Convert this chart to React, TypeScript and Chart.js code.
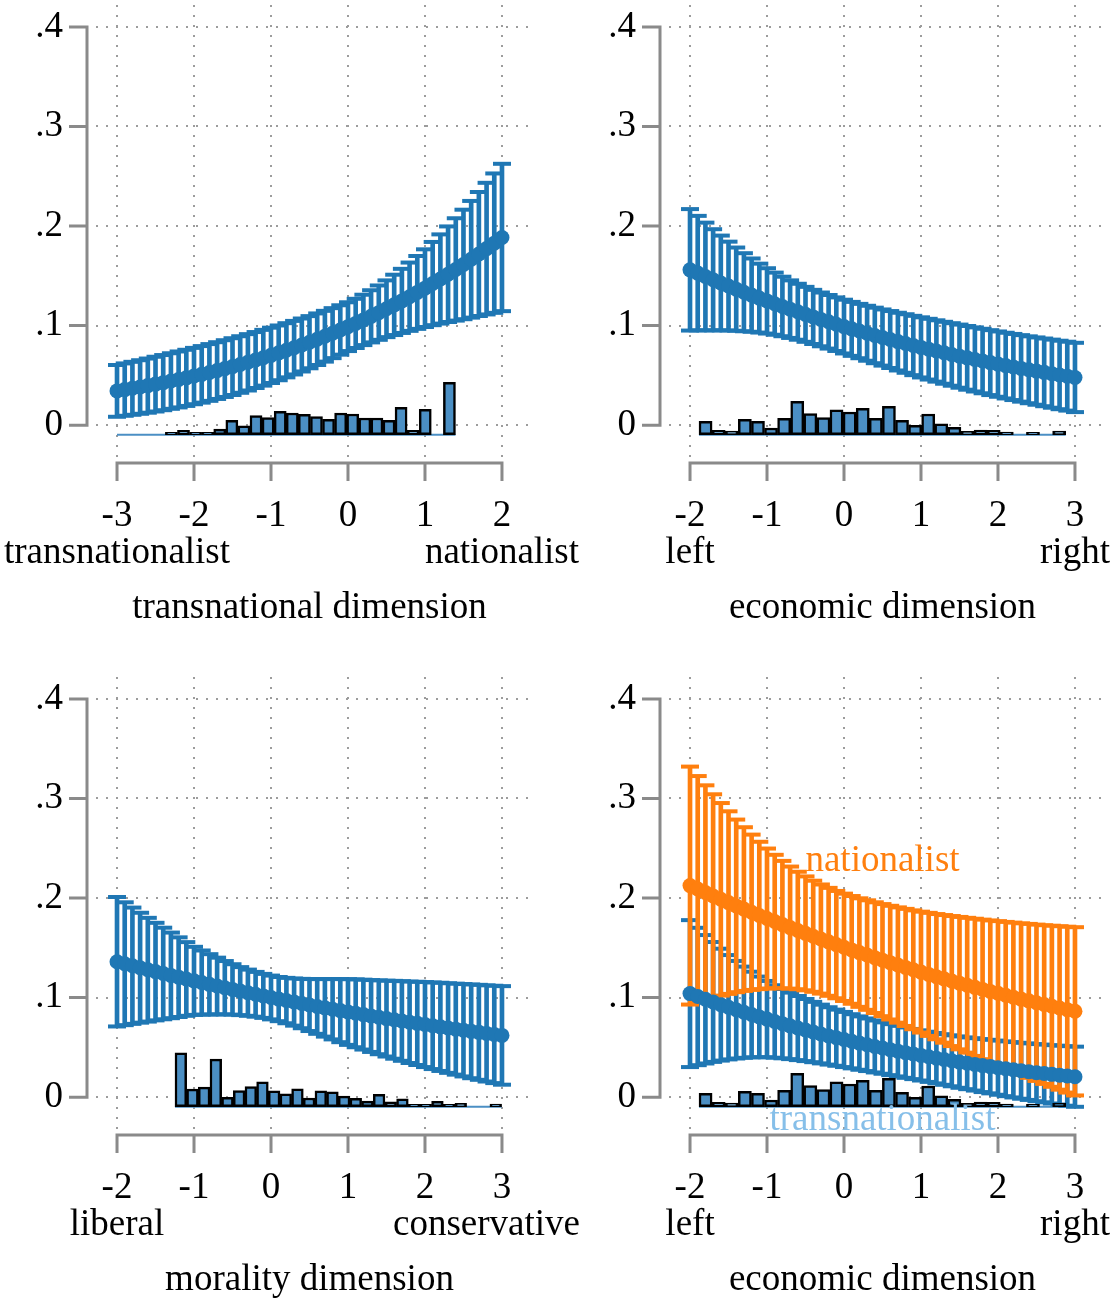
import React, { useEffect, useRef } from 'react';
import { Chart, registerables } from 'chart.js';

Chart.register(...registerables);

// ---- evaluation grids (values at which the predicted probabilities were computed) ----
const GRID_TRANS = [
  -3, -2.9, -2.8, -2.7, -2.6, -2.5, -2.4, -2.3, -2.2, -2.1,
  -2, -1.9, -1.8, -1.7, -1.6, -1.5, -1.4, -1.3, -1.2, -1.1,
  -1, -0.9, -0.8, -0.7, -0.6, -0.5, -0.4, -0.3, -0.2, -0.1,
  0, 0.1, 0.2, 0.3, 0.4, 0.5, 0.6, 0.7, 0.8, 0.9,
  1, 1.1, 1.2, 1.3, 1.4, 1.5, 1.6, 1.7, 1.8, 1.9, 2,
];
const GRID_NEG2_TO_3 = [
  -2, -1.9, -1.8, -1.7, -1.6, -1.5, -1.4, -1.3, -1.2, -1.1,
  -1, -0.9, -0.8, -0.7, -0.6, -0.5, -0.4, -0.3, -0.2, -0.1,
  0, 0.1, 0.2, 0.3, 0.4, 0.5, 0.6, 0.7, 0.8, 0.9,
  1, 1.1, 1.2, 1.3, 1.4, 1.5, 1.6, 1.7, 1.8, 1.9,
  2, 2.1, 2.2, 2.3, 2.4, 2.5, 2.6, 2.7, 2.8, 2.9, 3,
];

// ---- transnational dimension ----
const TRANS_EST = [
  0.0344, 0.0357, 0.0370, 0.0383, 0.0397, 0.0412, 0.0427, 0.0443, 0.0459, 0.0475,
  0.0493, 0.0510, 0.0529, 0.0548, 0.0568, 0.0588, 0.0609, 0.0631, 0.0654, 0.0677,
  0.0701, 0.0726, 0.0752, 0.0778, 0.0805, 0.0833, 0.0863, 0.0893, 0.0924, 0.0956,
  0.0989, 0.1022, 0.1057, 0.1093, 0.1130, 0.1169, 0.1208, 0.1248, 0.1290, 0.1333,
  0.1376, 0.1422, 0.1468, 0.1516, 0.1564, 0.1614, 0.1666, 0.1719, 0.1773, 0.1828, 0.1885,
];
const TRANS_HI = [
  0.0604, 0.0620, 0.0636, 0.0652, 0.0669, 0.0687, 0.0704, 0.0722, 0.0740, 0.0757,
  0.0776, 0.0794, 0.0814, 0.0833, 0.0853, 0.0873, 0.0893, 0.0914, 0.0935, 0.0957,
  0.0979, 0.1001, 0.1024, 0.1047, 0.1071, 0.1095, 0.1122, 0.1148, 0.1175, 0.1204,
  0.1234, 0.1269, 0.1310, 0.1355, 0.1403, 0.1454, 0.1511, 0.1570, 0.1633, 0.1699,
  0.1766, 0.1840, 0.1916, 0.1996, 0.2078, 0.2164, 0.2252, 0.2342, 0.2434, 0.2528, 0.2625,
];
const TRANS_LO = [
  0.0084, 0.0094, 0.0104, 0.0114, 0.0125, 0.0137, 0.0150, 0.0164, 0.0178, 0.0193,
  0.0210, 0.0226, 0.0244, 0.0263, 0.0283, 0.0303, 0.0325, 0.0348, 0.0373, 0.0397,
  0.0423, 0.0451, 0.0480, 0.0509, 0.0539, 0.0571, 0.0604, 0.0638, 0.0673, 0.0708,
  0.0744, 0.0775, 0.0804, 0.0831, 0.0857, 0.0884, 0.0905, 0.0926, 0.0947, 0.0967,
  0.0986, 0.1004, 0.1020, 0.1036, 0.1050, 0.1064, 0.1080, 0.1096, 0.1112, 0.1128, 0.1145,
];

// ---- economic dimension ----
const ECON_EST = [
  0.1560, 0.1527, 0.1493, 0.1460, 0.1428, 0.1397, 0.1366, 0.1335, 0.1306, 0.1276,
  0.1248, 0.1220, 0.1192, 0.1165, 0.1139, 0.1113, 0.1087, 0.1062, 0.1038, 0.1014,
  0.0990, 0.0967, 0.0945, 0.0923, 0.0901, 0.0880, 0.0860, 0.0839, 0.0820, 0.0800,
  0.0781, 0.0763, 0.0745, 0.0727, 0.0710, 0.0693, 0.0676, 0.0660, 0.0644, 0.0628,
  0.0613, 0.0598, 0.0584, 0.0570, 0.0556, 0.0543, 0.0530, 0.0517, 0.0504, 0.0492, 0.0479,
];
const ECON_HI = [
  0.2170, 0.2102, 0.2034, 0.1968, 0.1904, 0.1843, 0.1784, 0.1727, 0.1674, 0.1622,
  0.1576, 0.1532, 0.1491, 0.1454, 0.1420, 0.1389, 0.1359, 0.1332, 0.1307, 0.1283,
  0.1260, 0.1238, 0.1218, 0.1199, 0.1180, 0.1162, 0.1146, 0.1129, 0.1114, 0.1098,
  0.1083, 0.1068, 0.1053, 0.1038, 0.1024, 0.1010, 0.0996, 0.0982, 0.0968, 0.0954,
  0.0941, 0.0928, 0.0916, 0.0904, 0.0892, 0.0881, 0.0870, 0.0859, 0.0848, 0.0838, 0.0827,
];
const ECON_LO = [
  0.0950, 0.0952, 0.0952, 0.0952, 0.0952, 0.0951, 0.0948, 0.0943, 0.0938, 0.0930,
  0.0920, 0.0908, 0.0893, 0.0876, 0.0858, 0.0837, 0.0815, 0.0792, 0.0769, 0.0745,
  0.0720, 0.0696, 0.0672, 0.0647, 0.0622, 0.0598, 0.0574, 0.0549, 0.0526, 0.0502,
  0.0479, 0.0458, 0.0437, 0.0416, 0.0396, 0.0376, 0.0356, 0.0338, 0.0320, 0.0302,
  0.0285, 0.0268, 0.0252, 0.0236, 0.0220, 0.0205, 0.0190, 0.0175, 0.0160, 0.0146, 0.0131,
];

// ---- morality dimension ----
const MORAL_EST = [
  0.1360, 0.1340, 0.1320, 0.1300, 0.1280, 0.1261, 0.1242, 0.1223, 0.1205, 0.1187,
  0.1168, 0.1151, 0.1133, 0.1116, 0.1099, 0.1082, 0.1065, 0.1049, 0.1033, 0.1017,
  0.1001, 0.0985, 0.0970, 0.0955, 0.0940, 0.0925, 0.0911, 0.0897, 0.0883, 0.0869,
  0.0855, 0.0842, 0.0829, 0.0815, 0.0802, 0.0789, 0.0777, 0.0765, 0.0752, 0.0741,
  0.0729, 0.0717, 0.0706, 0.0694, 0.0683, 0.0672, 0.0661, 0.0651, 0.0640, 0.0630, 0.0620,
];
const MORAL_HI = [
  0.2010, 0.1957, 0.1904, 0.1852, 0.1801, 0.1751, 0.1702, 0.1653, 0.1605, 0.1557,
  0.1510, 0.1473, 0.1436, 0.1401, 0.1367, 0.1335, 0.1306, 0.1281, 0.1258, 0.1238,
  0.1221, 0.1207, 0.1198, 0.1192, 0.1188, 0.1186, 0.1186, 0.1186, 0.1186, 0.1186,
  0.1185, 0.1183, 0.1180, 0.1176, 0.1173, 0.1170, 0.1168, 0.1165, 0.1161, 0.1159,
  0.1156, 0.1152, 0.1149, 0.1144, 0.1140, 0.1136, 0.1132, 0.1128, 0.1123, 0.1119, 0.1115,
];
const MORAL_LO = [
  0.0710, 0.0723, 0.0736, 0.0748, 0.0759, 0.0771, 0.0782, 0.0793, 0.0805, 0.0817,
  0.0826, 0.0829, 0.0830, 0.0831, 0.0831, 0.0829, 0.0824, 0.0817, 0.0808, 0.0796,
  0.0781, 0.0763, 0.0742, 0.0718, 0.0692, 0.0664, 0.0636, 0.0608, 0.0580, 0.0552,
  0.0525, 0.0501, 0.0478, 0.0454, 0.0431, 0.0408, 0.0386, 0.0365, 0.0343, 0.0323,
  0.0302, 0.0282, 0.0263, 0.0244, 0.0226, 0.0208, 0.0190, 0.0174, 0.0157, 0.0141, 0.0125,
];

// ---- economic dimension by group: nationalist ----
const NAT_EST = [
  0.2125, 0.2090, 0.2055, 0.2021, 0.1987, 0.1954, 0.1921, 0.1889, 0.1857, 0.1825,
  0.1794, 0.1764, 0.1733, 0.1703, 0.1674, 0.1645, 0.1616, 0.1588, 0.1560, 0.1532,
  0.1505, 0.1479, 0.1452, 0.1427, 0.1401, 0.1376, 0.1351, 0.1327, 0.1303, 0.1279,
  0.1256, 0.1233, 0.1210, 0.1188, 0.1166, 0.1145, 0.1124, 0.1103, 0.1082, 0.1062,
  0.1043, 0.1023, 0.1004, 0.0985, 0.0967, 0.0948, 0.0930, 0.0913, 0.0896, 0.0879, 0.0862,
];
const NAT_HI = [
  0.3320, 0.3225, 0.3132, 0.3042, 0.2954, 0.2871, 0.2788, 0.2711, 0.2637, 0.2565,
  0.2497, 0.2434, 0.2373, 0.2316, 0.2264, 0.2217, 0.2174, 0.2136, 0.2102, 0.2071,
  0.2044, 0.2020, 0.1997, 0.1977, 0.1957, 0.1939, 0.1922, 0.1906, 0.1891, 0.1876,
  0.1863, 0.1851, 0.1839, 0.1829, 0.1819, 0.1810, 0.1801, 0.1792, 0.1783, 0.1775,
  0.1768, 0.1760, 0.1753, 0.1746, 0.1740, 0.1733, 0.1727, 0.1722, 0.1717, 0.1712, 0.1707,
];
const NAT_LO = [
  0.0930, 0.0955, 0.0978, 0.1000, 0.1020, 0.1037, 0.1054, 0.1067, 0.1077, 0.1085,
  0.1091, 0.1094, 0.1093, 0.1090, 0.1084, 0.1073, 0.1058, 0.1040, 0.1018, 0.0993,
  0.0966, 0.0938, 0.0907, 0.0877, 0.0845, 0.0813, 0.0780, 0.0748, 0.0715, 0.0682,
  0.0649, 0.0615, 0.0581, 0.0547, 0.0513, 0.0480, 0.0447, 0.0414, 0.0381, 0.0349,
  0.0318, 0.0286, 0.0255, 0.0224, 0.0194, 0.0163, 0.0133, 0.0104, 0.0075, 0.0046, 0.0017,
];

// ---- economic dimension by group: transnationalist ----
const TNL_EST = [
  0.1040, 0.1011, 0.0983, 0.0956, 0.0929, 0.0903, 0.0878, 0.0853, 0.0830, 0.0806,
  0.0784, 0.0760, 0.0738, 0.0716, 0.0694, 0.0674, 0.0654, 0.0634, 0.0615, 0.0597,
  0.0579, 0.0561, 0.0543, 0.0526, 0.0509, 0.0493, 0.0477, 0.0462, 0.0447, 0.0433,
  0.0419, 0.0405, 0.0391, 0.0378, 0.0365, 0.0352, 0.0340, 0.0329, 0.0317, 0.0307,
  0.0296, 0.0285, 0.0275, 0.0265, 0.0256, 0.0246, 0.0238, 0.0229, 0.0221, 0.0213, 0.0205,
];
const TNL_HI = [
  0.1778, 0.1701, 0.1628, 0.1558, 0.1491, 0.1427, 0.1368, 0.1311, 0.1260, 0.1211,
  0.1167, 0.1124, 0.1086, 0.1050, 0.1016, 0.0986, 0.0957, 0.0929, 0.0903, 0.0879,
  0.0856, 0.0833, 0.0811, 0.0790, 0.0770, 0.0751, 0.0733, 0.0716, 0.0700, 0.0685,
  0.0671, 0.0657, 0.0644, 0.0632, 0.0621, 0.0610, 0.0600, 0.0592, 0.0583, 0.0576,
  0.0568, 0.0560, 0.0553, 0.0546, 0.0540, 0.0533, 0.0528, 0.0522, 0.0517, 0.0512, 0.0507,
];
const TNL_LO = [
  0.0302, 0.0321, 0.0338, 0.0354, 0.0367, 0.0379, 0.0388, 0.0395, 0.0400, 0.0401,
  0.0401, 0.0396, 0.0390, 0.0382, 0.0372, 0.0362, 0.0351, 0.0339, 0.0327, 0.0315,
  0.0302, 0.0289, 0.0275, 0.0262, 0.0248, 0.0235, 0.0221, 0.0208, 0.0194, 0.0181,
  0.0167, 0.0153, 0.0138, 0.0124, 0.0109, 0.0094, 0.0080, 0.0066, 0.0051, 0.0038,
  0.0024, 0.0010, -0.0003, -0.0016, -0.0028, -0.0041, -0.0052, -0.0064, -0.0075, -0.0086, -0.0097,
];

// ---- histograms of the moderators (bar heights on the probability axis) ----
const HIST_BASE = -0.0096;
const TRANS_HIST_START = -3.0;
const TRANS_HIST_WIDTH = 0.157;
const TRANS_HIST = [
  0, 0, 0, 0, 0.0025, 0.0043, 0.0025, 0.0025, 0.0057, 0.0144,
  0.009, 0.0191, 0.0171, 0.0234, 0.0218, 0.0204, 0.0181, 0.0154, 0.0218, 0.0208,
  0.0168, 0.0168, 0.0144, 0.0274, 0.0043, 0.0254, 0, 0.0526,
];
const ECON_HIST_START = -1.883;
const ECON_HIST_WIDTH = 0.1701;
const ECON_HIST = [
  0.0134, 0.0043, 0.0037, 0.0154, 0.0134, 0.0067, 0.0164, 0.0335, 0.0211, 0.0171,
  0.0251, 0.0228, 0.0264, 0.0164, 0.0284, 0.0144, 0.0093, 0.0208, 0.0108, 0.0073,
  0.0033, 0.0047, 0.0043, 0.0027, 0, 0.0025, 0, 0.0037,
];
const MORAL_HIST_START = -1.247;
const MORAL_HIST_WIDTH = 0.1515;
const MORAL_HIST = [
  0.0541, 0.0177, 0.0197, 0.0478, 0.0093, 0.0163, 0.0201, 0.0251, 0.016, 0.013,
  0.018, 0.0087, 0.016, 0.015, 0.0107, 0.0083, 0.0057, 0.0123, 0.005, 0.008,
  0.0025, 0.0025, 0.0053, 0.0025, 0.0033, 0, 0, 0.0027,
];

// ---- axes ----
const Y_TICKS = [0, 0.1, 0.2, 0.3, 0.4];
const Y_TICK_LABELS = ['0', '.1', '.2', '.3', '.4'];
const Y_MIN = -0.032;
const Y_MAX = 0.422;
const TICKS_TRANS = [-3, -2, -1, 0, 1, 2];
const LABELS_TRANS = ['-3', '-2', '-1', '0', '1', '2'];
const TICKS_NEG2_TO_3 = [-2, -1, 0, 1, 2, 3];
const LABELS_NEG2_TO_3 = ['-2', '-1', '0', '1', '2', '3'];

// ---- style ----
const BLUE = '#1f77b4';
const ORANGE = '#ff7f0e';
const HIST_FILL = '#4b8fc4';
const LIGHT_BLUE = '#86bfe9';
const AXIS_GRAY = '#8a8a8a';
const GRID_GRAY = '#9c9c9c';
const SERIF = '"Liberation Serif", "Times New Roman", serif';
const FONT_SIZE = 37;

const CANVAS_H = 626;
const PLOT_LEFT = 96;
const PLOT_TOP = 5;
const PLOT_BOTTOM = 457;
const AXIS_GAP_Y = 9;
const AXIS_GAP_X = 6;
const TICK_LEN = 18;

// axis lines, tick marks and the text below each panel (Stata-like offset axes)
const panelDecor = {
  id: 'panelDecor',
  afterDraw(chart: any, _args: any, opts: any) {
    const { ctx, chartArea, scales } = chart;
    const xs = scales.x;
    const ys = scales.y;
    const yVals: number[] = ys.ticks.map((t: any) => t.value);
    const xVals: number[] = xs.ticks.map((t: any) => t.value);
    const axisX = chartArea.left - AXIS_GAP_Y;
    const axisY = chartArea.bottom + AXIS_GAP_X;

    ctx.save();
    ctx.strokeStyle = AXIS_GRAY;
    ctx.lineWidth = 3;
    ctx.beginPath();
    const yTop = ys.getPixelForValue(Math.max(...yVals));
    const yBot = ys.getPixelForValue(Math.min(...yVals));
    ctx.moveTo(axisX, yTop - 1.5);
    ctx.lineTo(axisX, yBot + 1.5);
    for (const v of yVals) {
      const py = ys.getPixelForValue(v);
      ctx.moveTo(axisX - TICK_LEN, py);
      ctx.lineTo(axisX, py);
    }
    const xL = xs.getPixelForValue(Math.min(...xVals));
    const xR = xs.getPixelForValue(Math.max(...xVals));
    ctx.moveTo(xL - 1.5, axisY);
    ctx.lineTo(xR + 1.5, axisY);
    for (const v of xVals) {
      const px = xs.getPixelForValue(v);
      ctx.moveTo(px, axisY);
      ctx.lineTo(px, axisY + TICK_LEN);
    }
    ctx.stroke();

    ctx.font = `${FONT_SIZE}px ${SERIF}`;
    ctx.fillStyle = '#000';
    ctx.textBaseline = 'middle';
    ctx.textAlign = 'center';
    xVals.forEach((v, i) => ctx.fillText(opts.xLabels[i], xs.getPixelForValue(v), axisY + 53));

    const drawKept = (text: string, cx: number, cy: number) => {
      const w = ctx.measureText(text).width;
      let left = cx - w / 2;
      left = Math.max(2, Math.min(left, chart.width - 2 - w));
      ctx.textAlign = 'left';
      ctx.fillText(text, left, cy);
    };
    drawKept(opts.ends[0], xL, axisY + 90);
    drawKept(opts.ends[1], xR, axisY + 90);

    ctx.textAlign = 'center';
    ctx.fillText(opts.title, (xL + xR) / 2, axisY + 145);

    for (const n of opts.notes || []) {
      ctx.fillStyle = n.color;
      ctx.fillText(n.text, xs.getPixelForValue(n.x), ys.getPixelForValue(n.y));
    }
    ctx.restore();
  },
};

type Series = { est: number[]; lo: number[]; hi: number[]; color: string };
type PanelCfg = {
  left: number; top: number; width: number; plotRight: number;
  grid: number[]; xMin: number; xMax: number; xTicks: number[]; xLabels: string[];
  ends: string[]; title: string; series: Series[];
  hist: { start: number; width: number; heights: number[] };
  notes: { text: string; x: number; y: number; color: string }[];
};

const PANELS: PanelCfg[] = [
  {
    left: 0, top: 0, width: 582, plotRight: 530,
    grid: GRID_TRANS, xMin: -3.273, xMax: 2.364, xTicks: TICKS_TRANS, xLabels: LABELS_TRANS,
    ends: ['transnationalist', 'nationalist'], title: 'transnational dimension',
    series: [{ est: TRANS_EST, lo: TRANS_LO, hi: TRANS_HI, color: BLUE }],
    hist: { start: TRANS_HIST_START, width: TRANS_HIST_WIDTH, heights: TRANS_HIST },
    notes: [],
  },
  {
    left: 573, top: 0, width: 540, plotRight: 532,
    grid: GRID_NEG2_TO_3, xMin: -2.273, xMax: 3.39, xTicks: TICKS_NEG2_TO_3, xLabels: LABELS_NEG2_TO_3,
    ends: ['left', 'right'], title: 'economic dimension',
    series: [{ est: ECON_EST, lo: ECON_LO, hi: ECON_HI, color: BLUE }],
    hist: { start: ECON_HIST_START, width: ECON_HIST_WIDTH, heights: ECON_HIST },
    notes: [],
  },
  {
    left: 0, top: 672, width: 582, plotRight: 530,
    grid: GRID_NEG2_TO_3, xMin: -2.273, xMax: 3.364, xTicks: TICKS_NEG2_TO_3, xLabels: LABELS_NEG2_TO_3,
    ends: ['liberal', 'conservative'], title: 'morality dimension',
    series: [{ est: MORAL_EST, lo: MORAL_LO, hi: MORAL_HI, color: BLUE }],
    hist: { start: MORAL_HIST_START, width: MORAL_HIST_WIDTH, heights: MORAL_HIST },
    notes: [],
  },
  {
    left: 573, top: 672, width: 540, plotRight: 532,
    grid: GRID_NEG2_TO_3, xMin: -2.273, xMax: 3.39, xTicks: TICKS_NEG2_TO_3, xLabels: LABELS_NEG2_TO_3,
    ends: ['left', 'right'], title: 'economic dimension',
    series: [
      { est: TNL_EST, lo: TNL_LO, hi: TNL_HI, color: BLUE },
      { est: NAT_EST, lo: NAT_LO, hi: NAT_HI, color: ORANGE },
    ],
    hist: { start: ECON_HIST_START, width: ECON_HIST_WIDTH, heights: ECON_HIST },
    notes: [
      { text: 'nationalist', x: 0.5, y: 0.237, color: ORANGE },
      { text: 'transnationalist', x: 0.5, y: -0.023, color: LIGHT_BLUE },
    ],
  },
];

function buildChart(canvas: HTMLCanvasElement, cfg: PanelCfg) {
  const datasets: any[] = [];
  const { hist } = cfg;
  const histEnd = hist.start + hist.width * hist.heights.length;

  // baseline of the histogram (visible where a bin is empty)
  datasets.push({
    type: 'line',
    data: [{ x: hist.start, y: HIST_BASE }, { x: histEnd, y: HIST_BASE }],
    borderColor: HIST_FILL, borderWidth: 2, pointRadius: 0, order: 40,
  });

  // confidence intervals: spikes + caps, one series after the other
  cfg.series.forEach((s, k) => {
    datasets.push({
      type: 'bar',
      data: cfg.grid.map((x, i) => ({ x, y: [s.lo[i], s.hi[i]] })),
      backgroundColor: s.color, borderWidth: 0, barThickness: 4, grouped: false,
      order: 39 - 2 * k,
    });
    datasets.push({
      type: 'line',
      data: [
        ...cfg.grid.map((x, i) => ({ x, y: s.hi[i] })),
        ...cfg.grid.map((x, i) => ({ x, y: s.lo[i] })),
      ],
      showLine: false, pointStyle: 'line', pointRadius: 9, pointBorderWidth: 4,
      pointBorderColor: s.color, pointBackgroundColor: s.color,
      order: 38 - 2 * k,
    });
  });

  // histogram bars
  const histIndex = datasets.length;
  const bins: { x: number; y: number[] }[] = [];
  hist.heights.forEach((h, i) => {
    if (h > 0) bins.push({ x: hist.start + (i + 0.5) * hist.width, y: [HIST_BASE, HIST_BASE + h] });
  });
  datasets.push({
    type: 'bar', data: bins,
    backgroundColor: HIST_FILL, borderColor: '#000', borderWidth: 2.5, borderSkipped: false,
    grouped: false, barThickness: 10, order: 20,
  });

  // predicted probabilities
  cfg.series.forEach((s, k) => {
    datasets.push({
      type: 'line',
      data: cfg.grid.map((x, i) => ({ x, y: s.est[i] })),
      borderColor: s.color, borderWidth: 7, tension: 0,
      pointRadius: 7.5, pointBackgroundColor: s.color, pointBorderWidth: 0,
      order: 10 - k,
    });
  });

  const gridOpts = { color: GRID_GRAY, lineWidth: 2, drawTicks: false, offset: false };
  const borderOpts = { display: false, dash: [2, 8] };

  const chart = new Chart(canvas, {
    type: 'bar',
    data: { datasets },
    plugins: [panelDecor],
    options: {
      responsive: false,
      animation: false,
      events: [],
      layout: {
        autoPadding: false,
        padding: { left: 0, right: cfg.width - cfg.plotRight, top: PLOT_TOP, bottom: 0 },
      },
      scales: {
        x: {
          type: 'linear', min: cfg.xMin, max: cfg.xMax, offset: false,
          afterBuildTicks: (s: any) => { s.ticks = cfg.xTicks.map((v) => ({ value: v })); },
          ticks: { display: false },
          grid: gridOpts, border: borderOpts,
          afterFit: (s: any) => { s.height = CANVAS_H - PLOT_BOTTOM; s.paddingLeft = 0; s.paddingRight = 0; },
        },
        y: {
          type: 'linear', min: Y_MIN, max: Y_MAX,
          afterBuildTicks: (s: any) => { s.ticks = Y_TICKS.map((v) => ({ value: v })); },
          ticks: {
            autoSkip: false,
            padding: 33,
            color: '#000',
            font: { family: SERIF, size: FONT_SIZE },
            callback: (v: any) => Y_TICK_LABELS[Y_TICKS.indexOf(Number(v))],
          },
          grid: gridOpts, border: borderOpts,
          afterFit: (s: any) => { s.width = PLOT_LEFT; s.paddingTop = 0; s.paddingBottom = 0; },
        },
      },
      plugins: {
        legend: { display: false },
        tooltip: { enabled: false },
        panelDecor: { xLabels: cfg.xLabels, ends: cfg.ends, title: cfg.title, notes: cfg.notes },
      } as any,
    } as any,
  } as any);

  // histogram bars span exactly one bin on the x scale
  const xs: any = chart.scales.x;
  const binPx = Math.abs(xs.getPixelForValue(hist.start + hist.width) - xs.getPixelForValue(hist.start));
  (chart.data.datasets[histIndex] as any).barThickness = binPx;
  chart.update();
  return chart;
}

function Panel({ cfg }: { cfg: PanelCfg }) {
  const ref = useRef<HTMLCanvasElement>(null);
  useEffect(() => {
    if (!ref.current) return;
    const chart = buildChart(ref.current, cfg);
    return () => chart.destroy();
  }, [cfg]);
  return (
    <canvas
      ref={ref}
      width={cfg.width}
      height={CANVAS_H}
      style={{ position: 'absolute', left: cfg.left, top: cfg.top, width: cfg.width, height: CANVAS_H }}
    />
  );
}

export default function App() {
  return (
    <div
      style={{
        position: 'absolute', left: 0, top: 0, width: 1113, height: 1298,
        overflow: 'hidden', background: '#fff',
      }}
    >
      {PANELS.map((p, i) => (
        <Panel key={i} cfg={p} />
      ))}
    </div>
  );
}
